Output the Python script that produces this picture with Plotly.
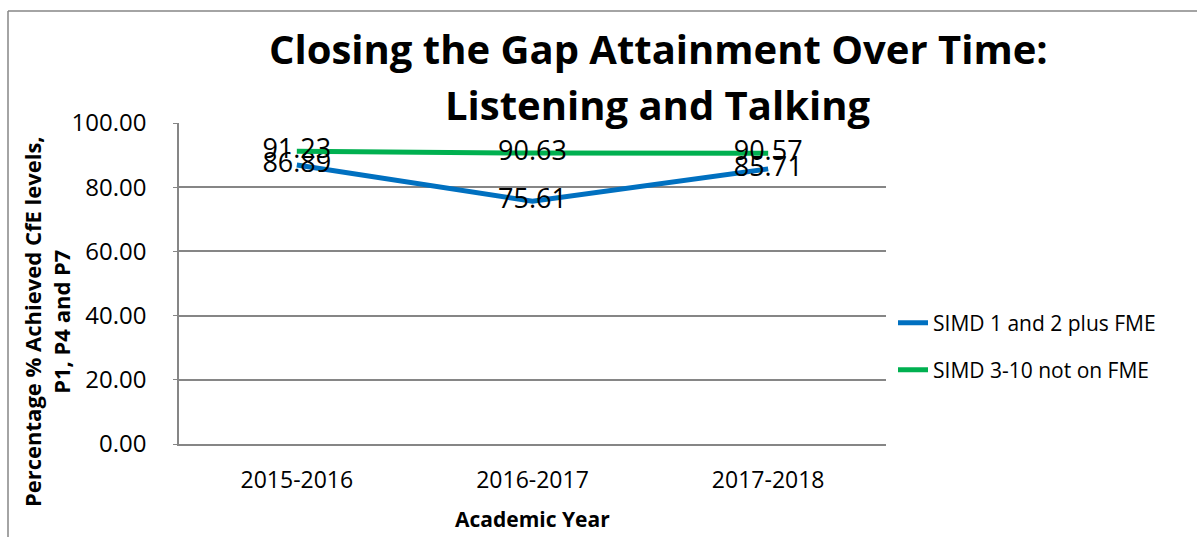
import plotly.graph_objects as go

categories = ["2015-2016", "2016-2017", "2017-2018"]
simd12_fme = [86.89, 75.61, 85.71]
simd310_not_fme = [91.23, 90.63, 90.57]
series_names = ["SIMD 1 and 2 plus FME", "SIMD 3-10 not on FME"]
y_ticks = [0, 20, 40, 60, 80, 100]

W, H = 1197, 537
L, R, T, B = 179, 886, 123, 444

def px(x):
    return (x - L) / (R - L)

def py(y):
    return (B - y) / (B - T)

font_family = "'Open Sans', Lato, sans-serif"

fig = go.Figure()
fig.add_trace(go.Scatter(
    x=categories, y=simd12_fme, name=series_names[0],
    mode="lines+text", text=[f"{v:.2f}" for v in simd12_fme],
    textposition="middle center",
    textfont=dict(size=27, color="#000000", family=font_family),
    line=dict(color="#0070C0", width=5), legend="legend",
))
fig.add_trace(go.Scatter(
    x=categories, y=simd310_not_fme, name=series_names[1],
    mode="lines+text", text=[f"{v:.2f}" for v in simd310_not_fme],
    textposition="middle center",
    textfont=dict(size=27, color="#000000", family=font_family),
    line=dict(color="#00B050", width=5), legend="legend2",
))

legend_common = dict(xanchor="left", yanchor="middle",
                     font=dict(size=21, family=font_family),
                     bgcolor="rgba(0,0,0,0)")

fig.update_layout(
    width=W, height=H,
    margin=dict(l=L, r=W - R, t=T, b=H - B, pad=0),
    paper_bgcolor="white", plot_bgcolor="white",
    font=dict(family=font_family, color="#000000"),
    showlegend=True,
    legend=dict(x=px(893), y=py(323), **legend_common),
    legend2=dict(x=px(893), y=py(370), **legend_common),
    xaxis=dict(
        type="category", range=[-0.5, 2.5],
        showgrid=False, showline=True, linecolor="#868686", linewidth=1.5,
        ticks="", tickfont=dict(size=23), ticklabelstandoff=15,
    ),
    yaxis=dict(
        range=[0, 100], tickvals=y_ticks,
        ticktext=[f"{v:.2f}" for v in y_ticks],
        showgrid=True, gridcolor="#868686", gridwidth=1.5,
        showline=True, linecolor="#868686", linewidth=1.5,
        ticks="outside", ticklen=4, tickcolor="#868686",
        tickfont=dict(size=24), zeroline=False, ticklabelstandoff=22,
    ),
    annotations=[
        dict(text="<b>Closing the Gap Attainment Over Time:</b>",
             x=px(658), y=py(48), xref="paper", yref="paper",
             xanchor="center", yanchor="middle", showarrow=False,
             font=dict(size=40, family=font_family)),
        dict(text="<b>Listening and Talking</b>",
             x=px(657), y=py(104), xref="paper", yref="paper",
             xanchor="center", yanchor="middle", showarrow=False,
             font=dict(size=40, family=font_family)),
        dict(text="<b>Academic Year</b>",
             x=px(532), y=py(519), xref="paper", yref="paper",
             xanchor="center", yanchor="middle", showarrow=False,
             font=dict(size=21, family=font_family)),
        dict(text="<b>Percentage % Achieved CfE levels,<br>P1, P4 and P7</b>",
             x=px(46), y=py(322), xref="paper", yref="paper",
             xanchor="center", yanchor="middle", showarrow=False,
             textangle=-90, align="center",
             font=dict(size=22, family=font_family)),
    ],
    shapes=[
        dict(type="line", xref="paper", yref="paper",
             x0=px(8), x1=px(1200), y0=py(11), y1=py(11),
             line=dict(color="#868686", width=1.5)),
        dict(type="line", xref="paper", yref="paper",
             x0=px(8), x1=px(8), y0=py(11), y1=py(540),
             line=dict(color="#868686", width=1.5)),
    ],
)

fig.write_html("out.html")
